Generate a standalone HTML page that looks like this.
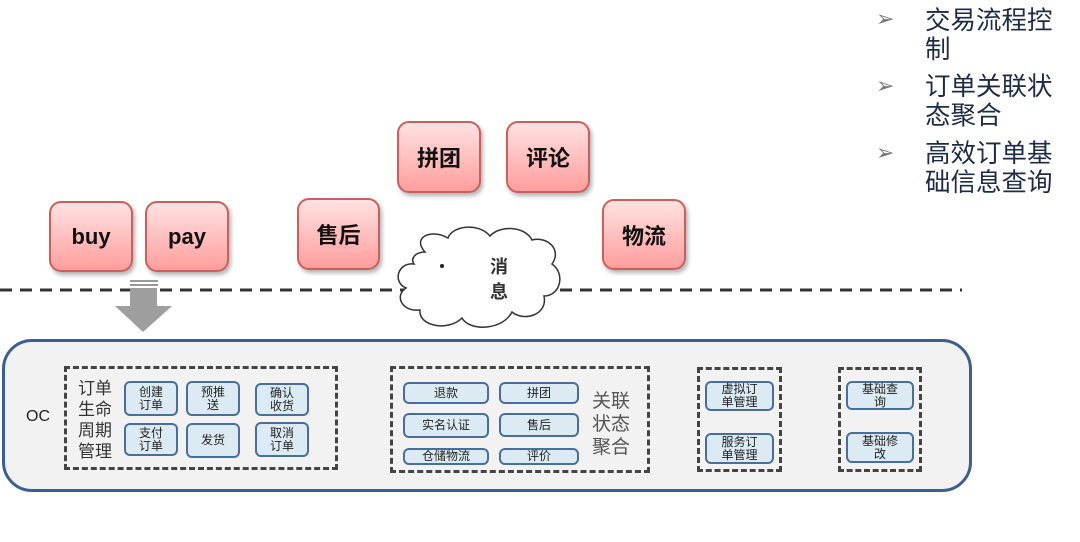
<!DOCTYPE html>
<html><head><meta charset="utf-8"><style>
body{margin:0;width:1080px;height:542px;background:#fff;position:relative;overflow:hidden;font-family:"Liberation Sans","Noto Sans CJK SC",sans-serif}
.a{position:absolute}
.pk{position:absolute;box-sizing:border-box;border:2px solid #c9605e;border-radius:12px;background:linear-gradient(#ffe2e2,#ff9d9d);box-shadow:2px 3px 4px rgba(0,0,0,.3);display:flex;align-items:center;justify-content:center;font-weight:bold;font-size:22px;color:#111}
.sb{position:absolute;box-sizing:border-box;border:2px solid #4a6e9c;border-radius:6px;background:#dcebf3;display:flex;align-items:center;justify-content:center;text-align:center;font-size:12px;line-height:13px;color:#222}
.db{position:absolute;box-sizing:border-box;border:3px dashed #444}
.rt{position:absolute;left:925px;font-size:25.5px;line-height:29px;color:#1e2b45;width:150px}
.bl{position:absolute;left:876px;font-size:22px;color:#777}
</style></head><body>
<div class="bl" style="top:6px">➢</div>
<div class="rt" style="top:7px">交易流程控<br>制</div>
<div class="bl" style="top:73px">➢</div>
<div class="rt" style="top:73px">订单关联状<br>态聚合</div>
<div class="bl" style="top:140px">➢</div>
<div class="rt" style="top:140px">高效订单基<br>础信息查询</div>

<div class="pk" style="left:49px;top:201px;width:84px;height:71px">buy</div>
<div class="pk" style="left:145px;top:201px;width:84px;height:71px">pay</div>
<div class="pk" style="left:297px;top:198px;width:83px;height:72px">售后</div>
<div class="pk" style="left:397px;top:121px;width:84px;height:72px">拼团</div>
<div class="pk" style="left:506px;top:121px;width:84px;height:72px">评论</div>
<div class="pk" style="left:602px;top:199px;width:84px;height:71px">物流</div>

<svg class="a" style="left:0;top:0" width="1080" height="542">
<line x1="0" y1="290" x2="962" y2="290" stroke="#333" stroke-width="3" stroke-dasharray="12,8"/>
<rect x="130" y="280" width="28" height="2" fill="#999"/>
<rect x="130" y="284" width="28" height="2" fill="#999"/>
<polygon points="130,288 157,288 157,306 172,306 143,332 115,306 130,306" fill="#9e9e9e"/>
<path d="M425,252 C412,238 430,228 448,238 C452,226 478,222 490,236 C500,225 525,226 532,240 C548,236 562,250 552,264 C566,274 560,296 544,296 C548,315 524,322 512,312 C503,330 470,332 462,318 C448,332 418,326 420,310 C402,312 394,296 406,288 C392,282 398,262 414,264 C410,258 416,252 425,252 Z" fill="#fff" stroke="#333" stroke-width="1.5"/>
<circle cx="442" cy="266" r="2" fill="#222"/>
</svg>
<div class="a" style="left:490px;top:255px;font-size:18px;font-weight:bold;line-height:25px;color:#333">消<br>息</div>

<div class="a" style="left:2px;top:339px;width:970px;height:153px;box-sizing:border-box;border:3px solid #3d5f8f;border-radius:30px;background:#f2f2f2"></div>
<div class="a" style="left:26px;top:408px;font-size:16px;color:#222">OC</div>

<div class="db" style="left:64px;top:366px;width:274px;height:104px"></div>
<div class="a" style="left:78px;top:378px;font-size:17px;line-height:21px;color:#333">订单<br>生命<br>周期<br>管理</div>
<div class="sb" style="left:124px;top:381px;width:54px;height:35px">创建<br>订单</div>
<div class="sb" style="left:186px;top:381px;width:54px;height:35px">预推<br>送</div>
<div class="sb" style="left:255px;top:383px;width:54px;height:33px">确认<br>收货</div>
<div class="sb" style="left:124px;top:423px;width:54px;height:33px">支付<br>订单</div>
<div class="sb" style="left:186px;top:423px;width:54px;height:35px">发货</div>
<div class="sb" style="left:255px;top:422px;width:54px;height:35px">取消<br>订单</div>

<div class="db" style="left:390px;top:366px;width:260px;height:107px"></div>
<div class="sb" style="left:403px;top:382px;width:86px;height:22px">退款</div>
<div class="sb" style="left:499px;top:382px;width:80px;height:22px">拼团</div>
<div class="sb" style="left:403px;top:413px;width:86px;height:25px">实名认证</div>
<div class="sb" style="left:499px;top:413px;width:80px;height:24px">售后</div>
<div class="sb" style="left:403px;top:448px;width:86px;height:17px">仓储物流</div>
<div class="sb" style="left:499px;top:448px;width:80px;height:17px">评价</div>
<div class="a" style="left:592px;top:390px;font-size:19px;line-height:23px;color:#555">关联<br>状态<br>聚合</div>

<div class="db" style="left:697px;top:367px;width:85px;height:105px"></div>
<div class="sb" style="left:705px;top:381px;width:69px;height:30px">虚拟订<br>单管理</div>
<div class="sb" style="left:705px;top:433px;width:69px;height:31px">服务订<br>单管理</div>
<div class="db" style="left:838px;top:367px;width:84px;height:105px"></div>
<div class="sb" style="left:846px;top:381px;width:68px;height:29px">基础查<br>询</div>
<div class="sb" style="left:846px;top:432px;width:68px;height:31px">基础修<br>改</div>
</body></html>
